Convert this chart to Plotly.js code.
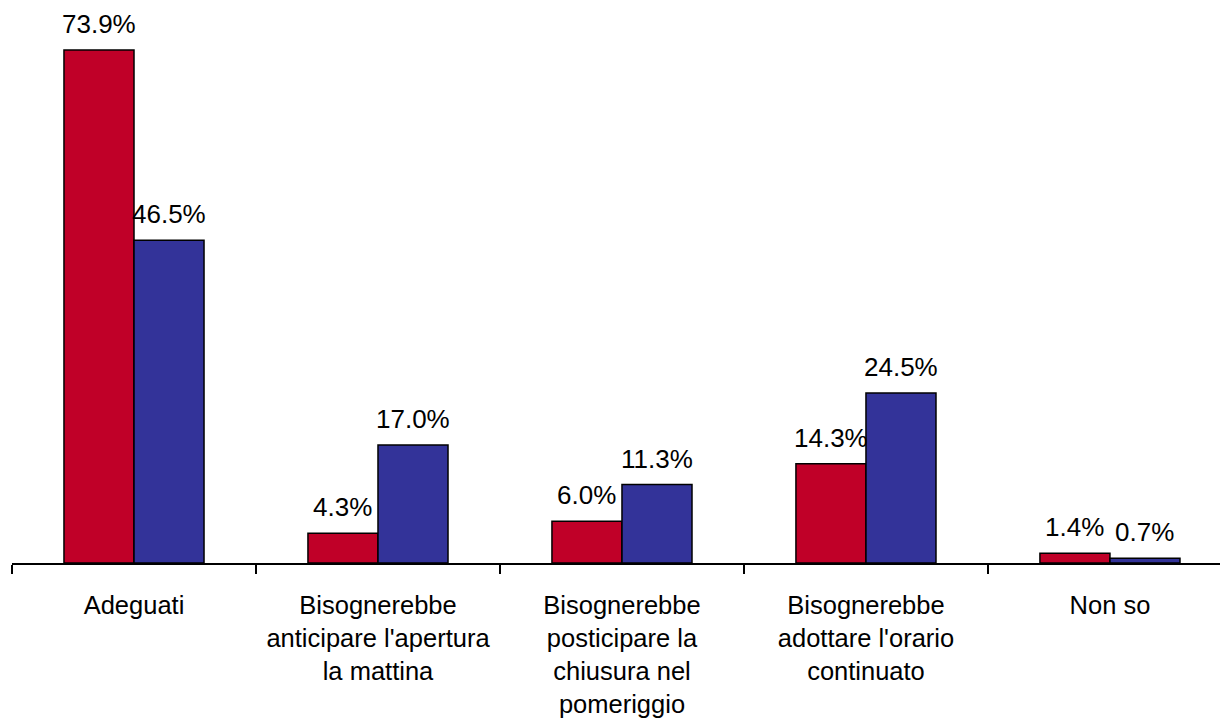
<!DOCTYPE html>
<html>
<head>
<meta charset="utf-8">
<script src="https://cdn.plot.ly/plotly-3.0.1.min.js"></script>
<style>html,body{margin:0;padding:0;background:#fff;}#chart{width:1220px;height:721px;}</style>
</head>
<body>
<div id="chart"></div>
<script>
var categories = ["Adeguati",
  "Bisognerebbe<br>anticipare l'apertura<br>la mattina",
  "Bisognerebbe<br>posticipare la<br>chiusura nel<br>pomeriggio",
  "Bisognerebbe<br>adottare l'orario<br>continuato",
  "Non so"];
var seriesRed = [73.9, 4.3, 6.0, 14.3, 1.4];
var seriesBlue = [46.5, 17.0, 11.3, 24.5, 0.7];
var labelsRed = seriesRed.map(function(v){return v.toFixed(1)+"%";});
var labelsBlue = seriesBlue.map(function(v){return v.toFixed(1)+"%";});

var FONT = "Liberation Sans, Arial, sans-serif";
var traces = [
  {type:"bar", x:categories, y:seriesRed, name:"A",
   marker:{color:"#C00028", line:{color:"#000", width:1.5}}, hoverinfo:"none"},
  {type:"bar", x:categories, y:seriesBlue, name:"B",
   marker:{color:"#333399", line:{color:"#000", width:1.5}}, hoverinfo:"none"}
];
var annotations = [];
categories.forEach(function(c,i){
  annotations.push({x:c, y:seriesRed[i], text:labelsRed[i], showarrow:false, xanchor:"center", yanchor:"bottom", xshift:-35, yshift:9, font:{family:FONT,size:26,color:"#000"}});
  annotations.push({x:c, y:seriesBlue[i], text:labelsBlue[i], showarrow:false, xanchor:"center", yanchor:"bottom", xshift:35, yshift:9, font:{family:FONT,size:26,color:"#000"}});
});
var layout = {
  width:1220, height:721,
  margin:{l:12, r:0, t:10, b:158},
  paper_bgcolor:"#fff", plot_bgcolor:"#fff",
  showlegend:false,
  barmode:"group", bargap:0.426, bargroupgap:0,
  font:{family:FONT, size:25.5, color:"#000"},
  xaxis:{type:"category", range:[-0.5, 4.451], showline:true, linecolor:"#000", linewidth:2,
    ticks:"outside", tickson:"boundaries", ticklen:9, tickwidth:2, tickcolor:"#000",
    ticklabelstandoff:18,
    showgrid:false, zeroline:false, tickfont:{family:FONT,size:25.5,color:"#000"}},
  yaxis:{range:[0, 79.68], visible:false, showgrid:false, zeroline:false},
  annotations:annotations
};
Plotly.newPlot("chart", traces, layout, {staticPlot:true});
</script>
</body>
</html>
